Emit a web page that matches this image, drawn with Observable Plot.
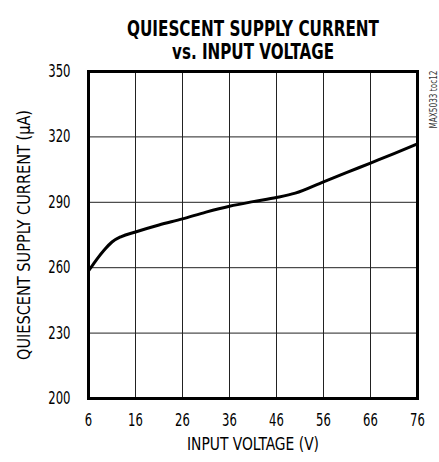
<!DOCTYPE html>
<html>
<head>
<meta charset="utf-8">
<script src="https://cdn.jsdelivr.net/npm/d3@7"></script>
<script src="https://cdn.jsdelivr.net/npm/@observablehq/plot@0.6"></script>
<style>
  html, body { margin: 0; padding: 0; background: #fff; }
  svg text { font-stretch: condensed; }
</style>
</head>
<body>
<div id="chart"></div>
<script>
const titleLines = ["QUIESCENT SUPPLY CURRENT", "vs. INPUT VOLTAGE"];
const xLabel = "INPUT VOLTAGE (V)";
const yLabel = "QUIESCENT SUPPLY CURRENT (µA)";
const note = "MAX5033 toc12";
const xTicks = [6, 16, 26, 36, 46, 56, 66, 76];
const yTicks = [200, 230, 260, 290, 320, 350];
const voltage = [6, 7, 8, 9.3, 11, 13, 16, 21, 26, 31, 36, 41, 46, 50, 56, 61, 66, 71, 76];
const current = [258.5, 261.5, 264.5, 268, 271.8, 274.3, 276.4, 279.6, 282.4, 285.5, 288.2, 290.3, 292.2, 294.2, 299.4, 303.7, 308, 312.3, 316.8];

const data = voltage.map((v, i) => ({v, c: current[i]}));
const FONT = '"DejaVu Sans Condensed", "DejaVu Sans", sans-serif';

const chart = Plot.plot({
  width: 439,
  height: 462,
  marginLeft: 88,
  marginRight: 22,
  marginTop: 71,
  marginBottom: 64,
  style: {fontFamily: FONT, color: "#000"},
  x: {domain: [6, 76], ticks: xTicks},
  y: {domain: [200, 350], ticks: yTicks},
  marks: [
    Plot.gridX(xTicks, {stroke: "#222", strokeOpacity: 1, strokeWidth: 1}),
    Plot.gridY(yTicks, {stroke: "#222", strokeOpacity: 1, strokeWidth: 1}),
    Plot.line(data, {x: "v", y: "c", stroke: "#000", strokeWidth: 3, curve: "monotone-x"}),
    Plot.frame({stroke: "#000", strokeWidth: 3}),
    Plot.axisX(xTicks, {tickSize: 0, tickPadding: 15, fontSize: 17, label: null, tickFormat: d => String(d)}),
    Plot.axisY(yTicks, {tickSize: 0, tickPadding: 18, fontSize: 17, label: null, tickFormat: d => String(d)}),
    Plot.text([xLabel], {frameAnchor: "bottom", dy: 51, fontSize: 17, text: d => d, className: "xlab"}),
    Plot.text([yLabel], {frameAnchor: "left", dx: -63.5, rotate: -90, fontSize: 17, text: d => d, className: "ylab"}),
    Plot.text([titleLines[0]], {frameAnchor: "top", dy: -50.5, fontSize: 21, fontWeight: "bold", text: d => d, className: "t1"}),
    Plot.text([titleLines[1]], {frameAnchor: "top", dy: -27, fontSize: 21, fontWeight: "bold", text: d => d, className: "t2"}),
    Plot.text([note], {frameAnchor: "top-right", dx: 12, dy: 28, rotate: -90, fontSize: 10, fill: "#333", text: d => d, className: "note"})
  ]
});

const fit = (sel, len) => d3.select(chart).selectAll(sel)
  .attr("textLength", len).attr("lengthAdjust", "spacingAndGlyphs");
fit(".t1 text", 252);
fit(".t2 text", 162);
fit(".xlab text", 132);
fit(".ylab text", 250);
fit(".note text", 58);
d3.select(chart).selectAll(".ylab text").attr("text-anchor", "start").attr("x", -125);
d3.select(chart).selectAll(".note text").attr("text-anchor", "start").attr("x", -29);
d3.select(chart).selectAll('[aria-label="x-axis tick label"] text, [aria-label="y-axis tick label"] text')
  .each(function() {
    const n = this.textContent.length;
    d3.select(this).attr("textLength", n * 7.4).attr("lengthAdjust", "spacingAndGlyphs");
  });
document.getElementById("chart").appendChild(chart);
</script>
</body>
</html>
